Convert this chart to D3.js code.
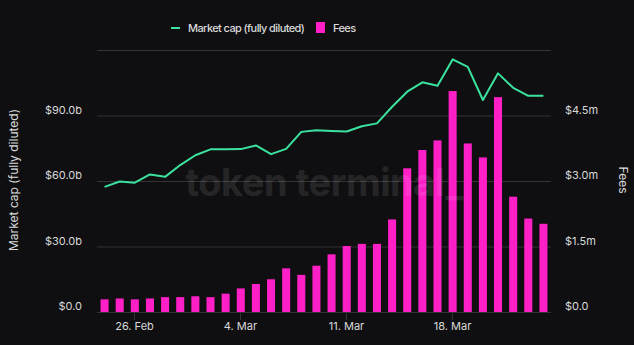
<!DOCTYPE html>
<html><head><meta charset="utf-8">
<script src="https://cdn.jsdelivr.net/npm/d3@7"></script>
<style>
html,body{margin:0;padding:0;background:#0f0f11;}
svg{display:block;font-family:Inter, "Noto Sans", sans-serif;}
</style></head>
<body><svg id="c" width="634" height="345"></svg>
<script>
const dates = ["2024-02-24","2024-02-25","2024-02-26","2024-02-27","2024-02-28","2024-02-29","2024-03-01","2024-03-02","2024-03-03","2024-03-04","2024-03-05","2024-03-06","2024-03-07","2024-03-08","2024-03-09","2024-03-10","2024-03-11","2024-03-12","2024-03-13","2024-03-14","2024-03-15","2024-03-16","2024-03-17","2024-03-18","2024-03-19","2024-03-20","2024-03-21","2024-03-22","2024-03-23","2024-03-24"];
const marketCap = [57.3,59.8,59.2,63.0,61.9,67.3,71.8,74.5,74.5,74.6,76.3,72.3,74.7,82.5,83.2,82.9,82.7,85.1,86.4,94.0,100.9,105.2,103.6,115.7,112.3,97.1,109.3,102.7,99.0,99.0]; // $b
const fees = [0.29,0.31,0.29,0.31,0.34,0.34,0.36,0.34,0.42,0.54,0.64,0.75,1.0,0.85,1.06,1.32,1.51,1.56,1.56,2.12,3.29,3.71,3.93,5.06,3.86,3.54,4.92,2.64,2.14,2.02]; // $m
const leftTicks = [0,30,60,90,120];
const rightTicks = [0,1.5,3.0,4.5,6.0];
const xTickDates = ["2024-02-26","2024-03-04","2024-03-11","2024-03-18"];
const xTickLabels = ["26. Feb","4. Mar","11. Mar","18. Mar"];

(function(){
const svg = d3.select("#c");
const pL = 97, pR = 551, pT = 50, pB = 312;
const textCol = "#d9d9d9", gridCol = "#333335";
const barCol = "#ff1fc7", lineCol = "#3be29f";

const x = d3.scaleBand().domain(dates).range([pL, pR]).paddingInner(0.47).paddingOuter(0.235);
const yL = d3.scaleLinear().domain([0,120]).range([pB, pT]);
const yR = d3.scaleLinear().domain([0,6]).range([pB, pT]);

// gridlines
svg.append("g").selectAll("line").data(leftTicks.slice(1)).join("line")
  .attr("x1", pL).attr("x2", pR)
  .attr("y1", d => yL(d)+0.5).attr("y2", d => yL(d)+0.5)
  .attr("stroke", gridCol).attr("stroke-width", 1);

// bars
svg.append("g").selectAll("rect").data(fees).join("rect")
  .attr("x", (d,i) => x(dates[i]))
  .attr("width", x.bandwidth())
  .attr("y", d => yR(d))
  .attr("height", d => pB - yR(d))
  .attr("fill", barCol);

// x axis baseline
svg.append("line").attr("x1", pL).attr("x2", pR).attr("y1", pB+0.5).attr("y2", pB+0.5)
  .attr("stroke", gridCol);

// x ticks
const xg = svg.append("g");
xTickDates.forEach((d,i) => {
  const cx = Math.round(x(d) + x.bandwidth()/2) - 0.5;
  xg.append("line").attr("x1", cx).attr("x2", cx).attr("y1", pB).attr("y2", pB+8).attr("stroke", gridCol);
  xg.append("text").attr("x", cx).attr("y", 330).attr("text-anchor","middle")
    .attr("fill", textCol).attr("font-size", 11).text(xTickLabels[i]);
});

// line
const line = d3.line().x((d,i) => x(dates[i]) + x.bandwidth()/2).y(d => yL(d));
svg.append("path").datum(marketCap).attr("d", line).attr("fill","none")
  .attr("stroke", lineCol).attr("stroke-width", 2).attr("stroke-linejoin","round");

// watermark
svg.append("text").attr("x", 324).attr("y", 196).attr("text-anchor","middle")
  .attr("font-size", 38).attr("font-weight", 700).attr("fill", "#ffffff").attr("fill-opacity", 0.1)
  .attr("letter-spacing", "-0.5px")
  .text("token terminal_");

// left axis labels
svg.append("g").selectAll("text").data(leftTicks.slice(0,4)).join("text")
  .attr("x", 82).attr("y", d => yL(d) - 2).attr("text-anchor","end")
  .attr("fill", textCol).attr("font-size", 11)
  .text(d => d === 0 ? "$0.0" : "$" + d.toFixed(1) + "b");

// right axis labels
svg.append("g").selectAll("text").data(rightTicks.slice(0,4)).join("text")
  .attr("x", 565).attr("y", d => yR(d) - 2).attr("text-anchor","start")
  .attr("fill", textCol).attr("font-size", 11)
  .text(d => d === 0 ? "$0.0" : "$" + d.toFixed(1) + "m");

// axis titles
svg.append("text").attr("transform","translate(18,180) rotate(-90)").attr("text-anchor","middle")
  .attr("fill", textCol).attr("font-size", 12).text("Market cap (fully diluted)");
svg.append("text").attr("transform","translate(619,180) rotate(90)").attr("text-anchor","middle")
  .attr("fill", textCol).attr("font-size", 12).text("Fees");

// legend
const lg = svg.append("g");
lg.append("line").attr("x1",171).attr("x2",180).attr("y1",28).attr("y2",28).attr("stroke",lineCol).attr("stroke-width",2);
lg.append("text").attr("x",188).attr("y",32).attr("fill",textCol).attr("font-size",11).attr("font-weight",500)
  .attr("letter-spacing","-0.6px").text("Market cap (fully diluted)");
lg.append("rect").attr("x",316).attr("y",22).attr("width",9).attr("height",11).attr("fill",barCol);
lg.append("text").attr("x",333).attr("y",32).attr("fill",textCol).attr("font-size",11).attr("font-weight",500)
  .attr("letter-spacing","-0.6px").text("Fees");
})();
</script>
</body></html>
